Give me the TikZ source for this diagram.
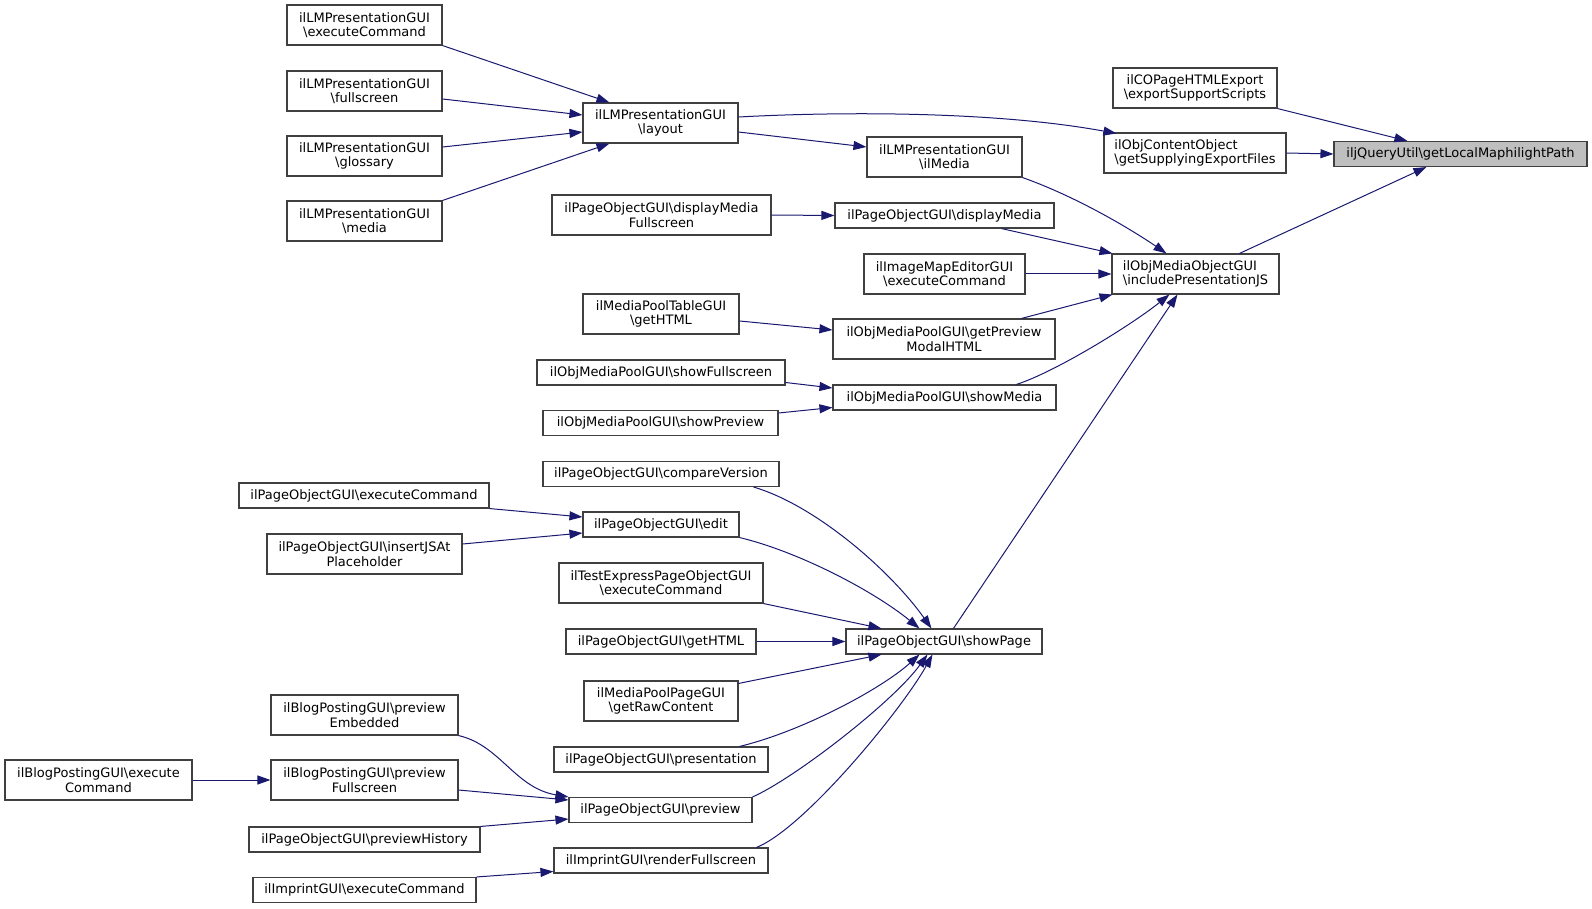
\documentclass[tikz,border=0pt]{standalone}
\usepackage{fontspec}
\setmainfont{DejaVu Sans}
\usetikzlibrary{arrows.meta,calc}
\definecolor{edgecol}{HTML}{191970}
\definecolor{boxcol}{HTML}{404040}
\newcommand{\bs}{\textbackslash}
\begin{document}
\begin{tikzpicture}[x=1pt,y=-1pt,
  fn/.style={draw=boxcol,line width=1.1pt,fill=white,inner sep=0pt,align=center,font=\fontsize{13}{14.5}\selectfont},
  fnl/.style={fn,align=left},
  hl/.style={fn,fill=gray!50},
  two/.style={minimum height=40pt},
  one/.style={minimum height=25pt},
  call/.style={draw=edgecol,line width=1pt,-{Triangle[length=13pt,width=9pt]}},
]
\useasboundingbox (0,0) rectangle (1592,909);
% column 1 (right)
\node[hl,one,minimum width=253pt] (iljQuery) at (1460.5,154) {iljQueryUtil\bs getLocalMaphilightPath};
% column 2
\node[fn,two,minimum width=164pt] (COPage) at (1195,88) {ilCOPageHTMLExport\\\bs exportSupportScripts};
\node[fnl,two,minimum width=182pt] (getSupplying) at (1195,153) {ilObjContentObject\\\bs getSupplyingExportFiles};
\node[fnl,two,minimum width=167pt] (includePJS) at (1195.5,274) {ilObjMediaObjectGUI\\\bs includePresentationJS};
% column 3
\node[fn,two,minimum width=155pt] (LMilMedia) at (944.5,157) {ilLMPresentationGUI\\\bs ilMedia};
\node[fn,one,minimum width=219pt] (dispMedia) at (944.5,215.5) {ilPageObjectGUI\bs displayMedia};
\node[fn,two,minimum width=161pt] (ImageMap) at (944.5,274) {ilImageMapEditorGUI\\\bs executeCommand};
\node[fn,two,minimum width=222pt] (getPreviewModal) at (944,339) {ilObjMediaPoolGUI\bs getPreview\\ModalHTML};
\node[fn,one,minimum width=223pt] (showMedia) at (944.5,397.5) {ilObjMediaPoolGUI\bs showMedia};
\node[fn,one,minimum width=196pt] (showPage) at (944,641.5) {ilPageObjectGUI\bs showPage};
% column 4
\node[fn,two,minimum width=155pt] (layout) at (660.5,123) {ilLMPresentationGUI\\\bs layout};
\node[fn,two,minimum width=219pt] (dispMediaFull) at (661.5,215) {ilPageObjectGUI\bs displayMedia\\Fullscreen};
\node[fn,two,minimum width=156pt] (MPTable) at (661,314) {ilMediaPoolTableGUI\\\bs getHTML};
\node[fn,one,minimum width=248pt] (showFullscreen) at (661,372.5) {ilObjMediaPoolGUI\bs showFullscreen};
\node[fn,one,minimum width=235pt] (showPreview) at (660.5,423) {ilObjMediaPoolGUI\bs showPreview};
\node[fn,one,minimum width=236pt] (compareVersion) at (661,474) {ilPageObjectGUI\bs compareVersion};
\node[fn,one,minimum width=156pt] (edit) at (661,524.5) {ilPageObjectGUI\bs edit};
\node[fn,two,minimum width=204pt] (TestExpress) at (661,583) {ilTestExpressPageObjectGUI\\\bs executeCommand};
\node[fn,one,minimum width=190pt] (POgetHTML) at (661,641.5) {ilPageObjectGUI\bs getHTML};
\node[fn,two,minimum width=154pt] (MediaPoolPage) at (661,701) {ilMediaPoolPageGUI\\\bs getRawContent};
\node[fn,one,minimum width=214pt] (presentation) at (661,759.5) {ilPageObjectGUI\bs presentation};
\node[fn,one,minimum width=183pt] (preview) at (660.5,810) {ilPageObjectGUI\bs preview};
\node[fn,one,minimum width=214pt] (renderFullscreen) at (661,860.5) {ilImprintGUI\bs renderFullscreen};
% column 5
\node[fn,two,minimum width=155pt] (LMexec) at (364.5,25) {ilLMPresentationGUI\\\bs executeCommand};
\node[fn,two,minimum width=155pt] (LMfull) at (364.5,91) {ilLMPresentationGUI\\\bs fullscreen};
\node[fn,two,minimum width=155pt] (LMgloss) at (364.5,156) {ilLMPresentationGUI\\\bs glossary};
\node[fn,two,minimum width=155pt] (LMmedia) at (364.5,221) {ilLMPresentationGUI\\\bs media};
\node[fn,one,minimum width=250pt] (POexec) at (364,495.5) {ilPageObjectGUI\bs executeCommand};
\node[fn,two,minimum width=195pt] (insertJSAt) at (364.5,554) {ilPageObjectGUI\bs insertJSAt\\Placeholder};
\node[fn,two,minimum width=187pt] (previewEmbedded) at (364.5,715) {ilBlogPostingGUI\bs preview\\Embedded};
\node[fn,two,minimum width=187pt] (previewFullscreen) at (364.5,780) {ilBlogPostingGUI\bs preview\\Fullscreen};
\node[fn,one,minimum width=231pt] (previewHistory) at (364.5,839.5) {ilPageObjectGUI\bs previewHistory};
\node[fn,one,minimum width=223pt] (ImprintExec) at (364.5,890) {ilImprintGUI\bs executeCommand};
% column 6
\node[fn,two,minimum width=187pt] (BlogExec) at (98.5,780) {ilBlogPostingGUI\bs execute\\Command};

% edges into iljQuery
\draw[call] (COPage.south east) -- ($(iljQuery.north west)+(74,0)$);
\draw[call] (getSupplying.east) -- (iljQuery.west);
\draw[call] ($(includePJS.north west)+(128,0)$) -- ($(iljQuery.south west)+(93,0)$);
% edges into getSupplying / LMilMedia
\draw[call] ($(layout.east)+(0,-6)$) .. controls (850,111) and (1000,112) .. ($(getSupplying.north west)+(13,1)$);
\draw[call] ($(layout.east)+(0,9)$) -- ($(LMilMedia.west)+(0,-10)$);
% edges into includePJS
\draw[call] (LMilMedia.south east) .. controls (1080,198) and (1135,232) .. ($(includePJS.north west)+(55,0)$);
\draw[call] ($(dispMedia.south west)+(167,0)$) -- ($(includePJS.north west)+(1,0)$);
\draw[call] (ImageMap.east) -- (includePJS.west);
\draw[call] ($(getPreviewModal.north west)+(189,0)$) -- ($(includePJS.south west)+(1,0)$);
\draw[call] ($(showMedia.north west)+(184,0)$) .. controls (1055,372) and (1130,326) .. ($(includePJS.south west)+(58,0)$);
\draw[call] ($(showPage.north west)+(108,0)$) -- ($(includePJS.south west)+(66,0)$);
% column 4 -> 3
\draw[call] (dispMediaFull.east) -- (dispMedia.west);
\draw[call] ($(MPTable.east)+(0,7)$) -- ($(getPreviewModal.west)+(0,-9)$);
\draw[call] ($(showFullscreen.east)+(0,10)$) -- ($(showMedia.west)+(0,-9.5)$);
\draw[call] ($(showPreview.east)+(0,-10)$) -- ($(showMedia.west)+(0,10)$);
% into layout
\draw[call] (LMexec.south east) -- ($(layout.north west)+(27,0)$);
\draw[call] ($(LMfull.east)+(0,8)$) -- ($(layout.west)+(0,-8)$);
\draw[call] ($(LMgloss.east)+(0,-9)$) -- ($(layout.west)+(0,9)$);
\draw[call] (LMmedia.north east) -- ($(layout.south west)+(27,0)$);
% into showPage
\draw[call] ($(compareVersion.south east)+(-26,0)$) .. controls (815,505) and (890,570) .. ($(showPage.north west)+(86,0)$);
\draw[call] (edit.south east) .. controls (800,552) and (875,592) .. ($(showPage.north west)+(74,0)$);
\draw[call] (TestExpress.south east) -- ($(showPage.north west)+(36,0)$);
\draw[call] (POgetHTML.east) -- (showPage.west);
\draw[call] ($(MediaPoolPage.north east)+(0,3)$) -- ($(showPage.south west)+(36,0)$);
\draw[call] ($(presentation.north west)+(186,0)$) .. controls (800,732) and (880,690) .. ($(showPage.south west)+(74,0)$);
\draw[call] (preview.north east) .. controls (795,778) and (893,702) .. ($(showPage.south west)+(82,0)$);
\draw[call] ($(renderFullscreen.north west)+(203,0)$) .. controls (805,828) and (903,708) .. ($(showPage.south west)+(87,0)$);
% into edit
\draw[call] (POexec.south east) -- ($(edit.west)+(0,-7.5)$);
\draw[call] ($(insertJSAt.east)+(0,-10)$) -- ($(edit.west)+(0,8.5)$);
% into preview and others
\draw[call] (BlogExec.east) -- (previewFullscreen.west);
\draw[call] (previewEmbedded.south east) .. controls (500,745) and (515,788) .. (preview.north west);
\draw[call] ($(previewFullscreen.east)+(0,10)$) -- ($(preview.west)+(0,-10)$);
\draw[call] (previewHistory.north east) -- ($(preview.west)+(0,9)$);
\draw[call] (ImprintExec.north east) -- ($(renderFullscreen.west)+(0,11)$);
\end{tikzpicture}
\end{document}
